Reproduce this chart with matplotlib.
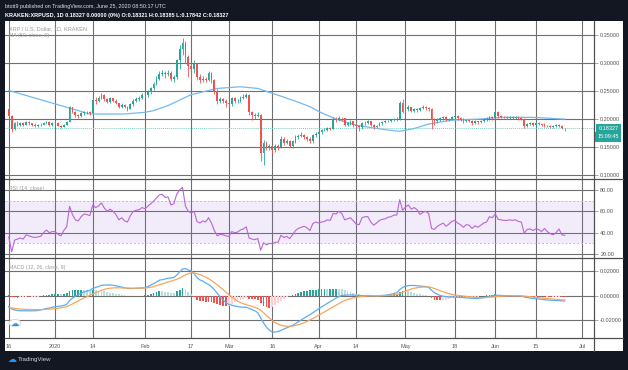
import matplotlib.pyplot as plt
import matplotlib.dates as mdates
from matplotlib.patches import Rectangle, Circle
from matplotlib.lines import Line2D
from matplotlib.transforms import blended_transform_factory
import numpy as np
import pandas as pd

plt.rcParams['font.family'] = ['Liberation Sans', 'DejaVu Sans']

W, H = 628, 370

# ---- data (XRP/USD daily, Kraken) ----
dates = pd.date_range("2019-12-16", "2020-06-25", freq="D")
first_open = 0.218

close_dec = [0.205, 0.182, 0.192, 0.190, 0.192, 0.190, 0.195, 0.192, 0.190, 0.188, 0.189, 0.190, 0.193, 0.195, 0.190, 0.192]
close_jan = [0.193, 0.188, 0.186, 0.190, 0.195, 0.221, 0.213, 0.207, 0.205, 0.210, 0.212, 0.212, 0.211, 0.234, 0.232, 0.238,
             0.243, 0.236, 0.231, 0.237, 0.233, 0.228, 0.222, 0.225, 0.222, 0.218, 0.226, 0.233, 0.236, 0.238, 0.243]
close_feb = [0.242, 0.248, 0.255, 0.262, 0.272, 0.280, 0.283, 0.280, 0.283, 0.272, 0.275, 0.305, 0.325, 0.335, 0.310,
             0.295, 0.290, 0.298, 0.275, 0.270, 0.272, 0.270, 0.282, 0.270, 0.250, 0.232, 0.235, 0.232, 0.228]
close_mar = [0.226, 0.237, 0.232, 0.233, 0.238, 0.240, 0.243, 0.212, 0.207, 0.205, 0.208, 0.140, 0.158, 0.148, 0.152, 0.145,
             0.152, 0.150, 0.165, 0.158, 0.160, 0.152, 0.160, 0.168, 0.170, 0.172, 0.168, 0.165, 0.160, 0.171, 0.174]
close_apr = [0.176, 0.180, 0.181, 0.184, 0.183, 0.200, 0.198, 0.202, 0.201, 0.190, 0.193, 0.196, 0.190, 0.188, 0.185,
             0.192, 0.193, 0.196, 0.190, 0.186, 0.188, 0.192, 0.195, 0.196, 0.197, 0.198, 0.200, 0.200, 0.228, 0.213]
close_may = [0.218, 0.221, 0.215, 0.217, 0.216, 0.219, 0.222, 0.219, 0.217, 0.198, 0.196, 0.199, 0.201, 0.203, 0.199, 0.200,
             0.203, 0.205, 0.201, 0.199, 0.196, 0.198, 0.197, 0.193, 0.196, 0.194, 0.197, 0.199, 0.200, 0.203, 0.202]
close_jun = [0.213, 0.205, 0.204, 0.203, 0.202, 0.203, 0.202, 0.203, 0.201, 0.200, 0.187, 0.191, 0.192, 0.190, 0.192,
             0.191, 0.190, 0.188, 0.187, 0.186, 0.187, 0.189, 0.188, 0.184, 0.18327]

high_dec = [0.221, 0.207, 0.195, 0.196, 0.194, 0.194, 0.197, 0.197, 0.193, 0.192, 0.191, 0.192, 0.195, 0.197, 0.196, 0.194]
high_jan = [0.195, 0.194, 0.190, 0.191, 0.197, 0.224, 0.222, 0.215, 0.209, 0.213, 0.215, 0.215, 0.214, 0.238, 0.240, 0.241,
            0.247, 0.245, 0.238, 0.240, 0.238, 0.235, 0.229, 0.228, 0.226, 0.224, 0.228, 0.236, 0.240, 0.241, 0.246]
high_feb = [0.247, 0.251, 0.258, 0.266, 0.276, 0.285, 0.288, 0.286, 0.287, 0.285, 0.279, 0.308, 0.332, 0.345, 0.340,
            0.315, 0.300, 0.305, 0.300, 0.280, 0.276, 0.275, 0.285, 0.284, 0.272, 0.254, 0.240, 0.238, 0.235]
high_mar = [0.233, 0.239, 0.240, 0.236, 0.241, 0.244, 0.246, 0.244, 0.215, 0.210, 0.212, 0.209, 0.162, 0.160, 0.155, 0.154,
            0.155, 0.156, 0.170, 0.168, 0.165, 0.162, 0.163, 0.172, 0.174, 0.176, 0.174, 0.170, 0.167, 0.173, 0.177]
high_apr = [0.178, 0.183, 0.184, 0.186, 0.186, 0.203, 0.204, 0.205, 0.204, 0.202, 0.195, 0.198, 0.197, 0.192, 0.190,
            0.194, 0.196, 0.198, 0.197, 0.191, 0.190, 0.194, 0.197, 0.198, 0.199, 0.200, 0.202, 0.203, 0.232, 0.236]
high_may = [0.223, 0.225, 0.222, 0.220, 0.219, 0.221, 0.225, 0.224, 0.221, 0.219, 0.201, 0.202, 0.204, 0.206, 0.205, 0.202,
            0.206, 0.208, 0.207, 0.203, 0.201, 0.200, 0.200, 0.198, 0.198, 0.197, 0.199, 0.201, 0.203, 0.206, 0.205]
high_jun = [0.218, 0.215, 0.207, 0.206, 0.205, 0.205, 0.205, 0.205, 0.205, 0.203, 0.202, 0.193, 0.194, 0.194, 0.194,
            0.194, 0.193, 0.192, 0.190, 0.189, 0.189, 0.191, 0.191, 0.189, 0.18385]

low_dec = [0.203, 0.177, 0.180, 0.187, 0.188, 0.188, 0.189, 0.190, 0.187, 0.186, 0.186, 0.187, 0.189, 0.191, 0.188, 0.188]
low_jan = [0.190, 0.187, 0.184, 0.185, 0.189, 0.194, 0.210, 0.204, 0.202, 0.204, 0.208, 0.209, 0.208, 0.210, 0.227, 0.230,
           0.236, 0.232, 0.228, 0.229, 0.230, 0.226, 0.220, 0.220, 0.219, 0.215, 0.217, 0.224, 0.230, 0.233, 0.236]
low_feb = [0.238, 0.240, 0.245, 0.252, 0.260, 0.270, 0.276, 0.274, 0.277, 0.268, 0.266, 0.272, 0.290, 0.315, 0.300,
           0.275, 0.268, 0.283, 0.270, 0.265, 0.266, 0.266, 0.268, 0.265, 0.245, 0.226, 0.228, 0.228, 0.222]
low_mar = [0.222, 0.224, 0.229, 0.228, 0.230, 0.235, 0.238, 0.208, 0.198, 0.200, 0.203, 0.125, 0.118, 0.145, 0.145, 0.138,
           0.142, 0.144, 0.148, 0.153, 0.155, 0.150, 0.148, 0.158, 0.165, 0.167, 0.165, 0.161, 0.157, 0.158, 0.168]
low_apr = [0.171, 0.174, 0.178, 0.179, 0.180, 0.182, 0.195, 0.196, 0.197, 0.188, 0.188, 0.190, 0.186, 0.184, 0.178,
           0.183, 0.189, 0.191, 0.187, 0.182, 0.184, 0.187, 0.190, 0.193, 0.194, 0.195, 0.196, 0.197, 0.198, 0.210]
low_may = [0.210, 0.215, 0.212, 0.212, 0.213, 0.214, 0.217, 0.216, 0.214, 0.182, 0.190, 0.193, 0.196, 0.198, 0.196, 0.196,
           0.198, 0.201, 0.198, 0.196, 0.193, 0.194, 0.194, 0.190, 0.191, 0.191, 0.192, 0.195, 0.197, 0.198, 0.199]
low_jun = [0.200, 0.202, 0.201, 0.201, 0.200, 0.200, 0.200, 0.200, 0.199, 0.198, 0.184, 0.185, 0.189, 0.188, 0.188,
           0.189, 0.188, 0.186, 0.185, 0.184, 0.184, 0.185, 0.186, 0.182, 0.17842]

# MA(50) read at a few dates
ma_dates = ["2019-12-16", "2019-12-30", "2020-01-13", "2020-01-25", "2020-02-01", "2020-02-04", "2020-02-09",
            "2020-02-17", "2020-02-26", "2020-03-05", "2020-03-11", "2020-03-20", "2020-03-25", "2020-03-29",
            "2020-04-02", "2020-04-07", "2020-04-14", "2020-04-20", "2020-04-24", "2020-04-29", "2020-05-04",
            "2020-05-09", "2020-05-17", "2020-05-27", "2020-06-03", "2020-06-14", "2020-06-25"]
ma_vals = [0.251, 0.230, 0.209, 0.209, 0.212, 0.215, 0.224, 0.2435, 0.2546, 0.2576, 0.2546, 0.239, 0.230, 0.222,
           0.211, 0.200, 0.189, 0.184, 0.181, 0.178, 0.183, 0.191, 0.198, 0.200, 0.203, 0.203, 0.1998]

rsi_dec = [36, 22, 33, 34, 35, 34, 38, 37, 36, 35.5, 36, 36.5, 40, 42.4, 40, 41]
rsi_jan = [41, 38.5, 37, 42, 45.5, 64.7, 57, 52, 51, 55, 57.5, 57, 56, 66, 63.5, 65, 68, 63, 60, 62, 60, 57, 52, 54, 51,
           50, 56, 60, 61, 61.5, 63.5]
rsi_feb = [62.5, 64.7, 67, 69.5, 72.5, 75.5, 76, 73, 73.5, 66, 67, 76, 80, 82.5, 65, 60, 58.5, 60, 50.5, 49, 51, 50, 54,
           49, 42, 37, 38.5, 38, 37]
rsi_mar = [36.5, 41, 40, 40.5, 42.5, 43.5, 45.5, 35, 34, 33.5, 34.5, 23.5, 30.5, 28.5, 30, 29.5, 31, 31, 37.5, 35.5,
           36.5, 34.5, 38, 42, 44, 45, 46, 44.5, 42, 48.5, 50]
rsi_apr = [49, 50, 50.5, 52, 51.5, 58, 57.5, 60, 58, 52, 53, 54, 51, 48, 47.5, 54, 55, 55, 50, 47, 49, 51.5, 52.5, 53,
           54.5, 55, 56.5, 56.5, 71, 61]
rsi_may = [64, 66, 62, 63.5, 61.5, 57, 59, 60, 58, 44, 43, 46, 47.5, 49, 46, 48, 50.5, 51.5, 49, 47.5, 45, 47.5, 47, 44,
           46.5, 45, 47, 49, 50, 55, 54]
rsi_jun = [57.5, 52.5, 52, 51.5, 51.5, 52, 51.5, 52, 50.5, 50, 39.5, 43, 43.5, 42, 43.5, 43, 41, 44, 41, 39, 38, 40,
           43.5, 38, 37.5]

macd_dec = [-0.0090, -0.0110, -0.0118, -0.0122, -0.0124, -0.0125, -0.0124, -0.0125, -0.0125, -0.0124, -0.0122, -0.0118,
            -0.0112, -0.0105, -0.0102, -0.0096]
macd_jan = [-0.0091, -0.0088, -0.0085, -0.0080, -0.0072, -0.0040, -0.0020, -0.0005, 0.0008, 0.0020, 0.0030, 0.0038,
            0.0045, 0.0060, 0.0068, 0.0076, 0.0085, 0.0088, 0.0087, 0.0088, 0.0086, 0.0082, 0.0076, 0.0071, 0.0066,
            0.0060, 0.0059, 0.0060, 0.0061, 0.0062, 0.0064]
macd_feb = [0.0065, 0.0075, 0.0087, 0.0098, 0.0112, 0.0128, 0.0132, 0.0138, 0.0145, 0.0146, 0.0150, 0.0170, 0.0196,
            0.0220, 0.0224, 0.0212, 0.0205, 0.0180, 0.0150, 0.0130, 0.0120, 0.0105, 0.0092, 0.0075, 0.0050, 0.0020,
            -0.0010, -0.0035, -0.0058]
macd_mar = [-0.0072, -0.0078, -0.0085, -0.0090, -0.0093, -0.0095, -0.0095, -0.0105, -0.0115, -0.0125, -0.0140, -0.0185,
            -0.0225, -0.0260, -0.0285, -0.0298, -0.0300, -0.0295, -0.0286, -0.0275, -0.0265, -0.0255, -0.0245, -0.0230,
            -0.0215, -0.0200, -0.0185, -0.0170, -0.0157, -0.0140, -0.0125]
macd_apr = [-0.0108, -0.0092, -0.0078, -0.0064, -0.0050, -0.0035, -0.0020, -0.0008, 0.0002, 0.0004, 0.0005, 0.0006,
            0.0005, 0.0004, 0.0002, 0.0001, 0.0001, 0.0002, 0.0001, -0.0001, -0.0002, 0.0000, 0.0002, 0.0004, 0.0008,
            0.0012, 0.0018, 0.0025, 0.0050, 0.0068]
macd_may = [0.0078, 0.0083, 0.0085, 0.0084, 0.0082, 0.0080, 0.0078, 0.0075, 0.0070, 0.0045, 0.0025, 0.0012, 0.0002,
            -0.0004, -0.0008, -0.0010, -0.0011, -0.0012, -0.0013, -0.0014, -0.0016, -0.0018, -0.0020, -0.0022, -0.0023,
            -0.0022, -0.0020, -0.0016, -0.0012, -0.0006, -0.0002]
macd_jun = [0.0004, 0.0003, 0.0002, 0.0001, 0.0000, 0.0000, -0.0001, -0.0001, -0.0002, -0.0003, -0.0010, -0.0015, -0.0019,
            -0.0022, -0.0024, -0.0027, -0.0030, -0.0033, -0.0035, -0.0037, -0.0039, -0.0040, -0.0041, -0.0043, -0.0044]

signal_dec = [-0.0098, -0.0101, -0.0104, -0.0107, -0.0110, -0.0112, -0.0113, -0.0114, -0.0115, -0.0115, -0.0115, -0.0115,
              -0.0114, -0.0112, -0.0111, -0.0109]
signal_jan = [-0.0107, -0.0104, -0.0100, -0.0096, -0.0091, -0.0080, -0.0068, -0.0055, -0.0042, -0.0030, -0.0018,
              -0.0008, 0.0003, 0.0014, 0.0025, 0.0035, 0.0045, 0.0052, 0.0058, 0.0062, 0.0064, 0.0065, 0.0065, 0.0064,
              0.0063, 0.0063, 0.0062, 0.0062, 0.0062, 0.0063, 0.0063]
signal_feb = [0.0063, 0.0066, 0.0070, 0.0076, 0.0082, 0.0090, 0.0097, 0.0105, 0.0113, 0.0120, 0.0127, 0.0135, 0.0145,
              0.0158, 0.0172, 0.0182, 0.0188, 0.0188, 0.0182, 0.0174, 0.0164, 0.0153, 0.0140, 0.0125, 0.0108, 0.0090,
              0.0070, 0.0050, 0.0030]
signal_mar = [0.0010, -0.0010, -0.0030, -0.0045, -0.0057, -0.0066, -0.0074, -0.0081, -0.0088, -0.0096, -0.0105, -0.0121,
              -0.0140, -0.0164, -0.0185, -0.0205, -0.0222, -0.0235, -0.0244, -0.0250, -0.0252, -0.0252, -0.0250,
              -0.0246, -0.0240, -0.0232, -0.0223, -0.0212, -0.0200, -0.0188, -0.0175]
signal_apr = [-0.0162, -0.0148, -0.0134, -0.0120, -0.0106, -0.0092, -0.0078, -0.0064, -0.0051, -0.0040, -0.0031,
              -0.0024, -0.0018, -0.0013, -0.0009, -0.0006, -0.0004, -0.0002, -0.0001, -0.0001, -0.0001, -0.0001,
              0.0000, 0.0001, 0.0002, 0.0004, 0.0006, 0.0010, 0.0018, 0.0028]
signal_may = [0.0038, 0.0047, 0.0055, 0.0061, 0.0066, 0.0069, 0.0071, 0.0072, 0.0072, 0.0067, 0.0059, 0.0050, 0.0041,
              0.0032, 0.0024, 0.0017, 0.0011, 0.0007, 0.0003, 0.0000, -0.0003, -0.0006, -0.0008, -0.0011, -0.0013,
              -0.0015, -0.0016, -0.0016, -0.0015, -0.0013, -0.0011]
signal_jun = [-0.0008, -0.0006, -0.0004, -0.0003, -0.0002, -0.0001, -0.0001, -0.0001, -0.0001, -0.0002, -0.0003,
              -0.0006, -0.0008, -0.0011, -0.0014, -0.0016, -0.0019, -0.0021, -0.0024, -0.0026, -0.0028, -0.0030,
              -0.0032, -0.0034, -0.0035]

tick_dates = ["2019-12-16", "2020-01-01", "2020-01-14", "2020-02-01", "2020-02-17", "2020-03-01", "2020-03-16",
              "2020-04-01", "2020-04-14", "2020-05-01", "2020-05-18", "2020-06-01", "2020-06-15", "2020-07-01"]
tick_labels = ["16", "2020", "14", "Feb", "17", "Mar", "16", "Apr", "14", "May", "18", "Jun", "15", "Jul"]

price_ticks = [0.10, 0.15, 0.20, 0.25, 0.30, 0.35]
rsi_ticks = [20, 40, 60, 80]
macd_ticks = [-0.02, 0.0, 0.02]

# ---- assemble ----
closes = np.array(close_dec + close_jan + close_feb + close_mar + close_apr + close_may + close_jun)
highs = np.array(high_dec + high_jan + high_feb + high_mar + high_apr + high_may + high_jun)
lows = np.array(low_dec + low_jan + low_feb + low_mar + low_apr + low_may + low_jun)
opens = np.concatenate([[first_open], closes[:-1]])
rsi = np.array(rsi_dec + rsi_jan + rsi_feb + rsi_mar + rsi_apr + rsi_may + rsi_jun)
macd = np.array(macd_dec + macd_jan + macd_feb + macd_mar + macd_apr + macd_may + macd_jun)
signal = np.array(signal_dec + signal_jan + signal_feb + signal_mar + signal_apr + signal_may + signal_jun)
hist = macd - signal

x = mdates.date2num(dates)
xt = mdates.date2num(pd.to_datetime(tick_dates))
xma = mdates.date2num(pd.to_datetime(ma_dates))

UP, DOWN = "#26a69a", "#ef5350"
GRID = "#6f6f6f"
LINE = "#505050"
TXT = "#555555"
FRAME = "#131722"


def rect(x0, y0, x1, y1):
    return [x0 / W, 1 - y1 / H, (x1 - x0) / W, (y1 - y0) / H]


fig = plt.figure(figsize=(W / 100, H / 100), dpi=100, facecolor=FRAME)
fig.patches.append(Rectangle((5 / W, 1 - 351 / H), 618 / W, 330.5 / H, transform=fig.transFigure,
                             facecolor="white", edgecolor="none", zorder=-5))

ax_p = fig.add_axes(rect(5, 20.5, 594, 179))
ax_r = fig.add_axes(rect(5, 179, 594, 258))
ax_m = fig.add_axes(rect(5, 258, 594, 338))

x_lo, x_hi = x[0] - 1.3, x[0] + 202.1
for ax in (ax_p, ax_r, ax_m):
    ax.set_facecolor("none")
    ax.set_xlim(x_lo, x_hi)
    ax.set_xticks(xt)
    ax.grid(True, color=GRID, lw=0.8)
    ax.set_axisbelow(True)
    for s in ax.spines.values():
        s.set_visible(False)
    ax.yaxis.tick_right()
    ax.tick_params(axis="y", length=3, width=0.6, color="#999999", labelsize=4.0, labelcolor=TXT, pad=1.5)
    ax.tick_params(axis="x", length=0, labelbottom=False)

# price pane
ax_p.set_ylim(0.0929, 0.3759)
ax_p.set_yticks(price_ticks)
ax_p.set_yticklabels([f"{v:.5f}" for v in price_ticks])
ax_p.vlines(x, lows, highs, colors=np.where(closes >= opens, UP, DOWN), lw=0.6, zorder=3)
body_h = np.maximum(np.abs(closes - opens), 0.0007)
ax_p.bar(x, body_h, bottom=np.minimum(opens, closes), width=0.62,
         color=np.where(closes >= opens, UP, DOWN), lw=0, zorder=4)
ax_p.plot(xma, ma_vals, color="#73b9f3", lw=0.9, zorder=2)
ax_p.axhline(closes[-1], color="#7fcdc5", lw=0.7, ls=(0, (1, 1)), zorder=2)
tr = blended_transform_factory(ax_p.transAxes, ax_p.transData)
ax_p.text(1.0245, closes[-1], f"{closes[-1]:.5f}", transform=tr, ha="center", va="center", fontsize=4.0,
          color="white", bbox=dict(boxstyle="square,pad=0.4", fc=UP, ec="none"), clip_on=False, zorder=6)
ax_p.annotate("15:09:45", xy=(1.0245, closes[-1]), xycoords=tr, xytext=(0, -6.2), textcoords="offset points",
              ha="center", va="center", fontsize=4.0, color="white",
              bbox=dict(boxstyle="square,pad=0.4", fc=UP, ec="none"), annotation_clip=False, zorder=6)
ax_p.text(0.007, 0.95, "XRP / U.S. Dollar, 1D, KRAKEN", transform=ax_p.transAxes, fontsize=4.0, color="#9a9a9a",
          va="center")
ax_p.text(0.007, 0.905, "MA (50, close, 0)", transform=ax_p.transAxes, fontsize=3.8, color="#9a9a9a", va="center")

# RSI pane
ax_r.set_ylim(16.25, 90.3)
ax_r.set_yticks(rsi_ticks)
ax_r.set_yticklabels([f"{v:.2f}" for v in rsi_ticks])
ax_r.axhspan(30, 70, color="#9c6bdb", alpha=0.13, lw=0, zorder=1)
ax_r.axhline(70, color="#c8b3e6", lw=0.7, ls=(0, (2, 2)), zorder=1)
ax_r.axhline(30, color="#c8b3e6", lw=0.7, ls=(0, (2, 2)), zorder=1)
ax_r.plot(x, rsi, color="#b966d6", lw=0.8, zorder=3)
ax_r.text(0.007, 0.88, "RSI (14, close)", transform=ax_r.transAxes, fontsize=3.8, color="#9a9a9a", va="center")

# MACD pane
ax_m.set_ylim(-0.0349, 0.0311)
ax_m.set_yticks(macd_ticks)
ax_m.set_yticklabels([f"{v:.5f}" for v in macd_ticks])
prev = np.concatenate([[hist[0]], hist[:-1]])
hcol = np.where(hist >= 0, np.where(hist >= prev, "#26a69a", "#b2dfdb"),
                np.where(hist <= prev, "#ef5350", "#ffcdd2"))
ax_m.bar(x, hist, width=0.62, color=hcol, lw=0, zorder=2)
ax_m.plot(x, macd, color="#5aaef2", lw=0.9, zorder=3)
ax_m.plot(x, signal, color="#f9a55a", lw=0.9, zorder=3)
ax_m.text(0.007, 0.88, "MACD (12, 26, close, 9)", transform=ax_m.transAxes, fontsize=3.8, color="#9a9a9a",
          va="center")
ax_m.tick_params(axis="x", labelbottom=True, labelsize=4.0, labelcolor=TXT, pad=4)
ax_m.set_xticklabels(tick_labels)

# pane borders / scale lines
for y in (179, 258, 338):
    fig.add_artist(Line2D([5 / W, 623 / W], [1 - y / H, 1 - y / H], color=LINE, lw=0.9))
fig.add_artist(Line2D([594 / W, 594 / W], [1 - 20.5 / H, 1 - 351 / H], color=LINE, lw=0.9))

# small round logo button in MACD pane
fig.patches.append(Circle((15 / W, 1 - 323 / H), 6 / W, transform=fig.transFigure, facecolor="white",
                          edgecolor="#d6d6d6", lw=0.6, zorder=5))
fig.text(15 / W, 1 - 323 / H, "\u2601", fontsize=6, color="#2196f3", ha="center", va="center",
         family="DejaVu Sans", zorder=6)

# header / footer
fig.text(5 / W, 1 - 6.5 / H, "btott9 published on TradingView.com, June 25, 2020 08:50:17 UTC",
         color="#e0e3eb", fontsize=3.85, va="center")
fig.text(5 / W, 1 - 15 / H, "KRAKEN:XRPUSD, 1D 0.18327 0.00000 (0%) O:0.18321 H:0.18385 L:0.17842 C:0.18327",
         color="white", fontsize=4.0, fontweight="bold", va="center")
fig.text(12 / W, 1 - 359 / H, "\u2601", fontsize=6.5, color="#2196f3", ha="center", va="center",
         family="DejaVu Sans")
fig.text(18 / W, 1 - 359 / H, "TradingView", fontsize=4.4, color="#d1d4dc", va="center")

fig.savefig("out.png", dpi=100, facecolor=FRAME)
